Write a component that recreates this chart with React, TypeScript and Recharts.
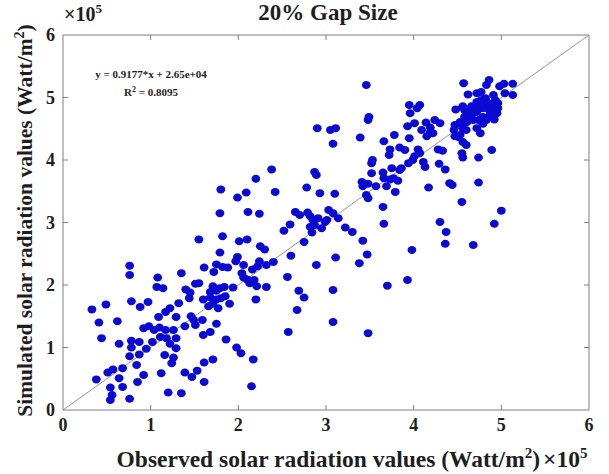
import React from 'react';
import {
  Label,
  ReferenceArea,
  ReferenceLine,
  Scatter,
  ScatterChart,
  XAxis,
  YAxis,
} from 'recharts';

// observed vs simulated solar radiation, both in units of 1e5 Watt/m^2
const OBSERVED = [
  0.76, 0.76, 1.08, 1.35, 1.07, 1.14, 0.33, 0.49, 0.78, 0.88, 0.97, 0.41, 0.62, 0.44, 0.64, 0.78,
  0.87, 0.78, 0.95, 1.02, 0.76, 0.87, 0.84, 0.68, 0.57, 0.51, 0.38, 0.64, 0.92, 0.85, 0.54, 0.68,
  0.56, 0.54, 0.76, 1.12, 1.2, 1.35, 1.16, 1.24, 1.26, 0.92, 0.98, 1.04, 1.1, 1.17, 1.11, 1.18,
  1.26, 1.29, 1.22, 1.29, 1.09, 1.17, 1.22, 1.29, 1.32, 1.4, 1.45, 1.51, 1.55, 1.44, 1.46, 1.49,
  1.51, 1.39, 1.39, 1.53, 1.47, 1.55, 2.38, 2.2, 1.8, 1.99, 2.09, 2.42, 1.79, 2.11, 2.24, 1.82,
  2.01, 2.1, 2.25, 2.3, 1.79, 1.99, 1.97, 1.75, 1.82, 1.88, 1.61, 1.72, 2.06, 2.16, 2.22, 2.24,
  2.32, 2.4, 2.04, 2.06, 2.1, 2.18, 2.13, 2.21, 2.32, 1.94, 1.71, 1.79, 1.84, 1.68, 1.75, 1.6,
  1.68, 1.75, 1.8, 1.85, 1.9, 1.66, 1.71, 1.77, 1.59, 1.75, 1.68, 1.6, 1.86, 1.98, 2.03, 1.71,
  1.61, 2.17, 1.61, 2.15, 2.2, 2.56, 2.6, 2.75, 2.52, 2.59, 2.65, 2.7, 2.79, 2.78, 2.87, 2.89,
  2.93, 2.69, 2.75, 2.67, 2.57, 2.89, 2.82, 2.85, 2.91, 2.87, 2.95, 2.82, 3.03, 3.01, 2.84, 2.9,
  2.99, 3.46, 3.49, 3.48, 3.05, 3.11, 3.08, 3.39, 3.66, 3.78, 3.73, 3.72, 3.84, 3.53, 3.52, 3.52,
  3.65, 3.66, 3.75, 3.73, 3.77, 3.82, 3.84, 3.86, 3.41, 3.42, 3.48, 3.57, 3.69, 3.79, 3.46, 3.48,
  3.1, 3.08, 3.14, 3.22, 3.3, 3.42, 3.47, 3.38, 3.11, 3.65, 3.66, 3.98, 3.95, 4.07, 3.96, 4.04,
  3.93, 4.01, 4.09, 4.14, 4.19, 4.24, 4.3, 4.19, 4.22, 4.15, 3.95, 3.9, 4.05, 4.07, 4.01, 3.99,
  3.94, 4.11, 4.13, 4.28, 4.33, 4.29, 4.36, 4.17, 4.41, 4.44, 4.55, 4.3, 4.37, 4.36, 4.68, 4.92,
  5.0, 4.74, 4.74, 4.56, 4.6, 4.89, 4.47, 4.52, 4.46, 4.47, 4.51, 4.57, 4.56, 4.58, 4.48, 4.56,
  4.58, 4.64, 4.69, 4.72, 4.66, 4.72, 4.76, 4.79, 4.61, 4.57, 4.62, 4.72, 4.77, 4.83, 4.86, 4.98,
  5.03, 5.13, 5.04, 5.13, 4.72, 4.77, 4.82, 4.85, 4.91, 4.93, 4.96, 4.95, 4.91, 4.89, 4.83, 4.86,
  4.79, 4.76, 4.72, 4.68, 4.64, 4.68, 4.74, 4.79, 4.83, 4.87, 4.92, 4.95, 4.96, 3.08, 3.08, 3.48,
  3.7, 3.93, 4.53, 4.53, 4.56, 4.55, 4.6,
];

const SIMULATED = [
  2.31, 2.16, 2.12, 2.19, 1.97, 1.95, 1.61, 1.69, 1.74, 1.65, 1.73, 1.4, 1.42, 1.15, 1.06, 1.11,
  1.09, 1.0, 0.98, 1.09, 0.86, 0.89, 0.72, 0.67, 0.65, 0.6, 0.49, 0.51, 0.56, 0.45, 0.36, 0.37,
  0.24, 0.16, 0.18, 0.59, 0.28, 0.27, 0.88, 0.75, 0.84, 1.31, 1.34, 1.28, 1.32, 1.28, 1.17, 1.15,
  1.28, 1.15, 1.06, 0.99, 1.49, 1.57, 1.63, 1.49, 1.71, 1.93, 1.88, 2.02, 2.03, 1.79, 1.5, 1.44,
  1.36, 1.34, 0.6, 0.63, 0.53, 2.73, 3.85, 3.7, 3.53, 3.4, 3.48, 3.49, 3.15, 3.17, 3.14, 2.78,
  2.7, 2.73, 2.62, 2.57, 2.52, 2.45, 2.38, 2.33, 2.29, 2.28, 2.28, 2.21, 2.32, 2.25, 2.3, 2.38,
  2.32, 2.37, 2.19, 2.12, 2.09, 2.08, 2.03, 1.98, 1.97, 1.96, 1.98, 1.95, 1.97, 1.89, 1.91, 1.77,
  1.8, 1.77, 1.79, 1.82, 1.7, 1.66, 1.7, 1.63, 1.44, 1.38, 1.25, 1.2, 1.13, 1.0, 0.91, 0.81,
  0.76, 0.81, 0.45, 0.38, 1.77, 2.13, 2.47, 2.69, 2.87, 2.97, 3.17, 3.12, 3.16, 3.56, 3.81, 3.76,
  3.47, 1.91, 1.8, 1.6, 1.25, 2.32, 3.1, 3.04, 3.07, 2.96, 2.91, 2.93, 3.2, 3.04, 2.84, 4.51,
  3.01, 5.2, 4.69, 4.64, 4.48, 4.51, 4.26, 4.36, 4.3, 4.4, 4.17, 4.08, 4.2, 4.0, 3.95, 3.79,
  3.8, 3.71, 3.87, 3.69, 3.71, 3.67, 3.84, 3.87, 3.65, 3.58, 3.62, 3.58, 3.58, 3.49, 3.44, 3.39,
  3.46, 3.15, 3.07, 2.92, 2.85, 2.71, 2.49, 2.35, 2.44, 3.25, 2.98, 2.56, 4.88, 4.88, 4.75, 4.83,
  4.54, 4.59, 4.48, 4.6, 4.52, 4.64, 4.59, 4.45, 4.43, 4.38, 4.35, 4.16, 4.17, 4.11, 4.06, 4.0,
  3.95, 3.97, 3.89, 4.17, 4.15, 3.94, 3.85, 3.56, 3.63, 3.6, 3.33, 3.01, 2.85, 2.66, 2.64, 2.98,
  3.19, 3.64, 4.04, 4.04, 4.24, 4.16, 4.56, 4.58, 4.48, 4.38, 4.37, 4.59, 4.51, 4.69, 4.81, 4.86,
  4.8, 4.76, 4.81, 4.77, 4.86, 4.51, 4.43, 4.58, 4.61, 5.23, 5.05, 5.07, 5.09, 5.2, 5.28, 5.18,
  5.22, 5.22, 5.07, 5.04, 4.93, 4.96, 4.99, 4.91, 5.04, 4.96, 4.91, 4.85, 4.83, 4.88, 4.85, 4.8,
  4.83, 4.88, 4.8, 4.75, 4.69, 4.64, 4.64, 4.69, 4.64, 4.72, 4.65, 4.75, 4.83, 1.92, 1.41, 1.23,
  1.99, 2.08, 4.61, 4.4, 4.29, 4.11, 4.48,
];

const AXIS_TICKS = [0, 1, 2, 3, 4, 5, 6];
const FIT_TEXT = 'y = 0.9177*x + 2.65e+04';
const R2_TEXT = '0.8095';

const DOT_COLOR = '#0a0ad2';
const BOX_COLOR = '#7f7f7f';
const LINE_COLOR = '#8a8a8a';
const TEXT_COLOR = '#1e1e1e';
const FONT = '"Liberation Serif", "Times New Roman", serif';

const points = OBSERVED.map((x, i) => ({ x, y: SIMULATED[i] }));

// inward tick length in data units (about 5px each way)
const TICK_DY = 0.08;
const TICK_DX = 0.057;

function Dot(props: { cx?: number; cy?: number }) {
  if (props.cx == null || props.cy == null) return null;
  return <ellipse cx={props.cx} cy={props.cy} rx={4.4} ry={4} fill={DOT_COLOR} />;
}

function XTick({ x, y, payload }: { x: number; y: number; payload: { value: number } }) {
  return (
    <text x={x} y={y} dy="0.71em" textAnchor="middle" fontFamily={FONT} fontWeight="bold" fontSize={18} fill={TEXT_COLOR}>
      {payload.value}
    </text>
  );
}

function YTick({ x, y, payload }: { x: number; y: number; payload: { value: number } }) {
  return (
    <text x={x} y={y} dy="0.36em" textAnchor="end" fontFamily={FONT} fontWeight="bold" fontSize={18} fill={TEXT_COLOR}>
      {payload.value}
    </text>
  );
}

type VB = { x: number; y: number; width: number; height: number };

export default function App() {
  return (
    <div style={{ position: 'absolute', left: 0, top: 0, background: '#fff' }}>
      <ScatterChart width={609} height={474} margin={{ top: 35, right: 20, bottom: 34, left: 0 }}>
        <XAxis
          type="number"
          dataKey="x"
          domain={[0, 6]}
          ticks={AXIS_TICKS}
          axisLine={false}
          tickLine={false}
          height={30}
          tick={XTick}
          interval={0}
        >
          <Label
            content={({ viewBox }) => {
              const vb = viewBox as VB;
              const cx = vb.x + vb.width / 2 + 26;
              return (
                <text x={cx} y={467} textAnchor="middle" fontFamily={FONT} fontWeight="bold" fontSize={23.5} fill={TEXT_COLOR}>
                  Observed solar radiation values (Watt/m
                  <tspan dy={-9} fontSize={15}>2</tspan>
                  <tspan dy={9}>)</tspan>
                  <tspan dx={3}>×10</tspan>
                  <tspan dy={-9} fontSize={15}>5</tspan>
                </text>
              );
            }}
          />
        </XAxis>
        <YAxis
          type="number"
          dataKey="y"
          domain={[0, 6]}
          ticks={AXIS_TICKS}
          axisLine={false}
          tickLine={false}
          width={63}
          tick={YTick}
          interval={0}
        >
          <Label
            content={({ viewBox }) => {
              const vb = viewBox as VB;
              const cy = vb.y + vb.height / 2 - 2;
              return (
                <text
                  x={0}
                  y={0}
                  transform={`translate(32, ${cy}) rotate(-90)`}
                  textAnchor="middle"
                  fontFamily={FONT}
                  fontWeight="bold"
                  fontSize={21.5}
                  fill={TEXT_COLOR}
                >
                  Simulated solar radiation values (Watt/m
                  <tspan dy={-8} fontSize={14}>2</tspan>
                  <tspan dy={8}>)</tspan>
                </text>
              );
            }}
          />
        </YAxis>

        <ReferenceArea x1={0} x2={6} y1={0} y2={6} fill="none" stroke={BOX_COLOR} strokeWidth={1} ifOverflow="visible" />
        {AXIS_TICKS.slice(1, -1).map((t) => (
          <ReferenceLine key={`xb${t}`} segment={[{ x: t, y: 0 }, { x: t, y: TICK_DY }]} stroke={BOX_COLOR} />
        ))}
        {AXIS_TICKS.slice(1, -1).map((t) => (
          <ReferenceLine key={`xt${t}`} segment={[{ x: t, y: 6 }, { x: t, y: 6 - TICK_DY }]} stroke={BOX_COLOR} />
        ))}
        {AXIS_TICKS.slice(1, -1).map((t) => (
          <ReferenceLine key={`yl${t}`} segment={[{ x: 0, y: t }, { x: TICK_DX, y: t }]} stroke={BOX_COLOR} />
        ))}
        {AXIS_TICKS.slice(1, -1).map((t) => (
          <ReferenceLine key={`yr${t}`} segment={[{ x: 6, y: t }, { x: 6 - TICK_DX, y: t }]} stroke={BOX_COLOR} />
        ))}
        <ReferenceLine segment={[{ x: 0, y: 0 }, { x: 6, y: 6 }]} stroke={LINE_COLOR} strokeWidth={0.9} />

        <Scatter data={points} shape={Dot} isAnimationActive={false} />

        <ReferenceLine
          segment={[{ x: 0, y: 6 }, { x: 6, y: 6 }]}
          stroke="none"
          label={({ viewBox }: { viewBox: VB }) => {
            const left = viewBox.x;
            return (
              <g fontFamily={FONT} fontWeight="bold" fill={TEXT_COLOR}>
                <text x={328} y={20} textAnchor="middle" fontSize={23}>
                  20% Gap Size
                </text>
                <text x={left + 1} y={21} fontSize={20}>
                  ×10
                  <tspan dy={-8} fontSize={13}>5</tspan>
                </text>
                <text x={left + 88} y={78} textAnchor="middle" fontSize={11}>
                  {FIT_TEXT}
                </text>
                <text x={left + 88} y={96} textAnchor="middle" fontSize={11}>
                  R<tspan dy={-4} fontSize={8}>2</tspan>
                  <tspan dy={4}> = {R2_TEXT}</tspan>
                </text>
              </g>
            );
          }}
        />
      </ScatterChart>
    </div>
  );
}
